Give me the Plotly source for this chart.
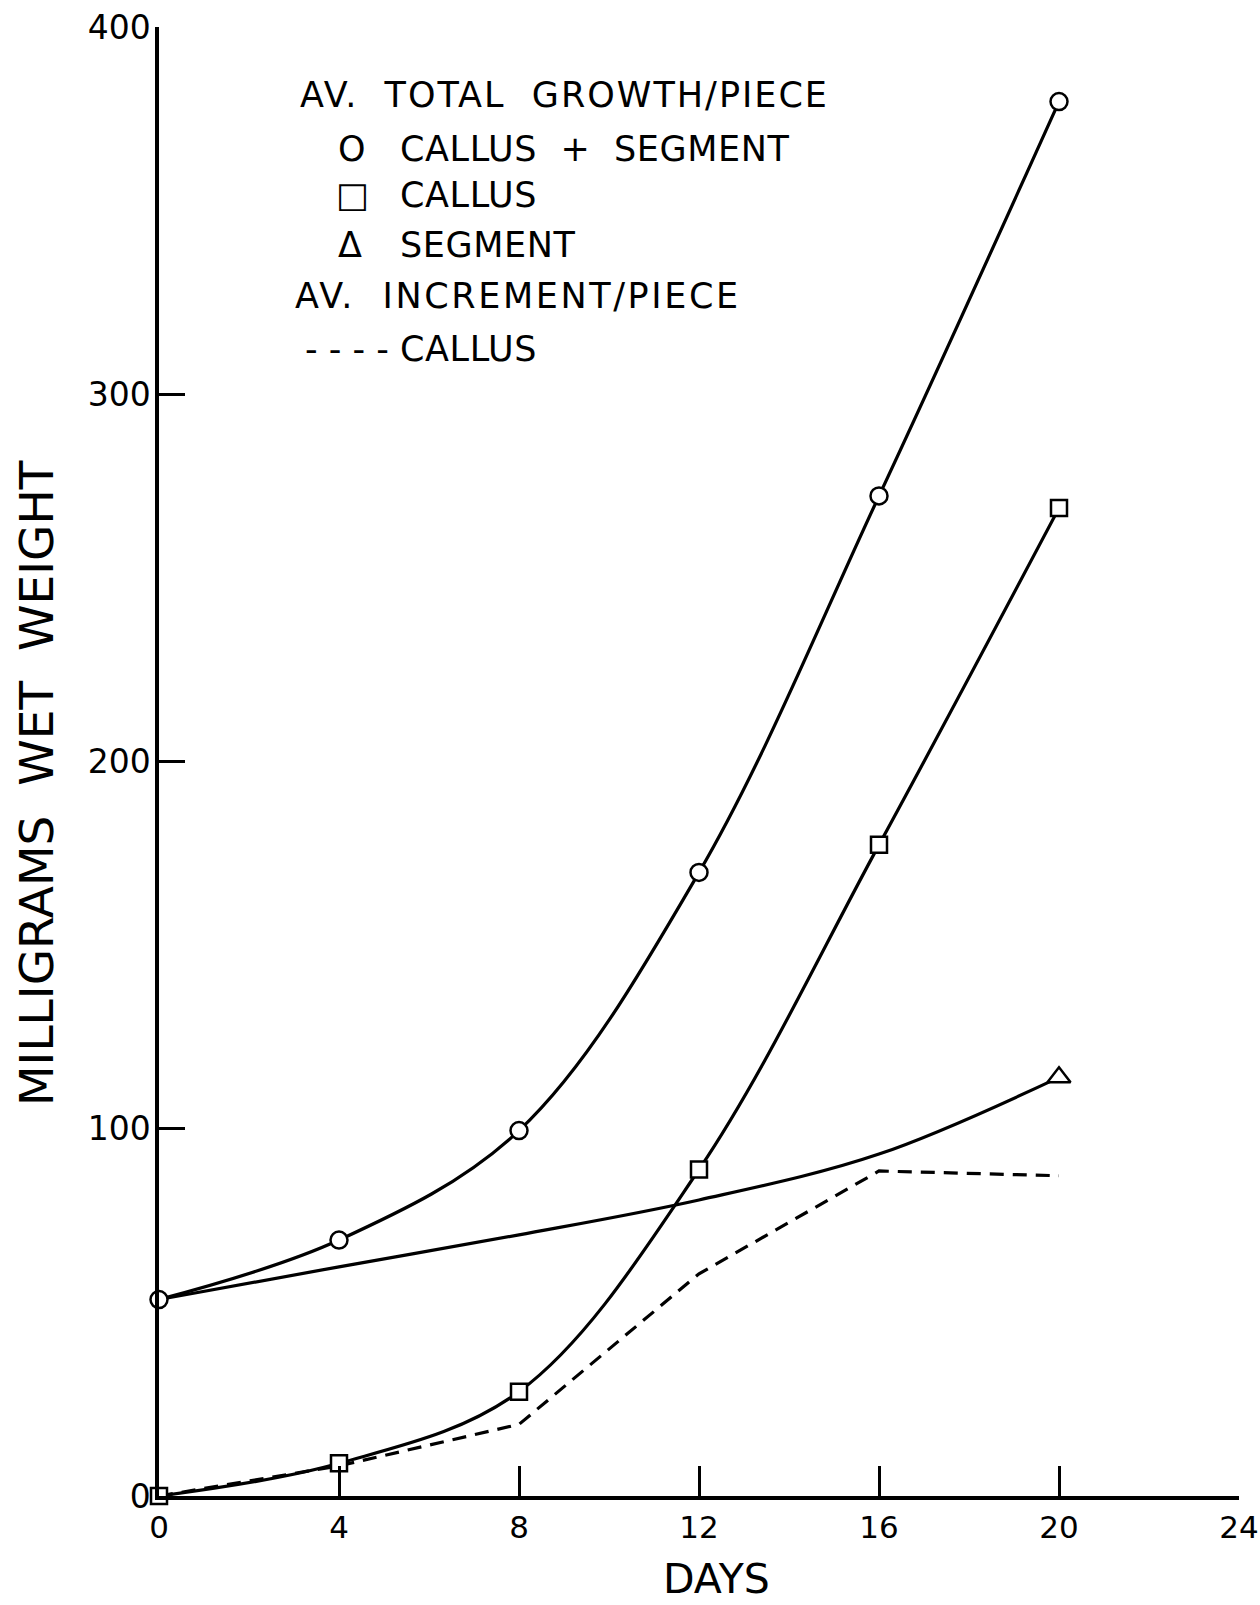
import plotly.graph_objects as go

# ---- data ----
days = [0, 4, 8, 12, 16, 20]
callus_plus_segment = [53.5, 69.7, 99.5, 169.8, 272.3, 379.7]
callus = [0.0, 8.9, 28.4, 88.9, 177.3, 269.0]
segment = [53.5, 62.4, 71.1, 80.6, 93.1, 114.0]
increment_callus = [0.0, 8.2, 19.5, 60.5, 88.5, 87.2]

x_ticks = [0, 4, 8, 12, 16, 20, 24]
y_ticks = [0, 100, 200, 300, 400]

# (text, left px, centre px, letter spacing px)
legend_lines = [
    ("AV.  TOTAL  GROWTH/PIECE", 298, 95, 2.0),
    ("O", 336, 149, 0), ("CALLUS  +  SEGMENT", 398, 149, 0.6),
    ("\u25a1", 334, 195, 0), ("CALLUS", 398, 195, 0.6),
    ("\u0394", 336, 245, 0), ("SEGMENT", 398, 245, 0.6),
    ("AV.  INCREMENT/PIECE", 293, 296, 2.6),
    ("- - - -", 303, 349, 0), ("CALLUS", 398, 349, 0.6),
]

W, H = 1260, 1605
L, R, T, B = 159, 21, 27, 109
PW, PH = W - L - R, H - T - B
FONT = "DejaVu Sans"


def px(x):
    return (x - L) / PW


def py(y):
    return (H - B - y) / PH


fig = go.Figure()

fig.add_trace(go.Scatter(
    x=days, y=segment, mode="lines",
    line=dict(color="black", width=3.2, shape="spline", smoothing=1.0),
    cliponaxis=False, showlegend=False))
fig.add_trace(go.Scatter(
    x=days, y=increment_callus, mode="lines",
    line=dict(color="black", width=3.2, dash="14px,9px"),
    cliponaxis=False, showlegend=False))
fig.add_trace(go.Scatter(
    x=days, y=callus, mode="lines+markers",
    line=dict(color="black", width=3.2, shape="spline", smoothing=1.0),
    marker=dict(symbol="square", size=16, color="white",
                line=dict(color="black", width=2.5)),
    cliponaxis=False, showlegend=False))
fig.add_trace(go.Scatter(
    x=days, y=callus_plus_segment, mode="lines+markers",
    line=dict(color="black", width=3.2, shape="spline", smoothing=1.0),
    marker=dict(symbol="circle", size=17, color="white",
                line=dict(color="black", width=2.5)),
    cliponaxis=False, showlegend=False))
fig.add_trace(go.Scatter(
    x=days[-1:], y=segment[-1:], mode="markers",
    marker=dict(symbol="triangle-up", size=20, color="white",
                line=dict(color="black", width=2.5)),
    cliponaxis=False, showlegend=False))

annotations = []
for text, x, y, ls in legend_lines:
    label = f'<span style="letter-spacing:{ls}px">{text}</span>' if ls else text
    annotations.append(dict(
        text=label, x=px(x), y=py(y), xref="paper", yref="paper",
        xanchor="left", yanchor="middle", showarrow=False,
        font=dict(family=FONT, size=35, color="black")))

annotations.append(dict(
    text="MILLIGRAMS  WET  WEIGHT", x=px(36), y=py(783),
    xref="paper", yref="paper", textangle=-90,
    xanchor="center", yanchor="middle", showarrow=False,
    font=dict(family=FONT, size=47, color="black")))
annotations.append(dict(
    text="DAYS", x=px(716), y=py(1579),
    xref="paper", yref="paper",
    xanchor="center", yanchor="middle", showarrow=False,
    font=dict(family=FONT, size=41, color="black")))

fig.update_layout(
    width=W, height=H, autosize=False,
    margin=dict(l=L, r=R, t=T, b=B, pad=0, autoexpand=False),
    paper_bgcolor="white", plot_bgcolor="white",
    annotations=annotations,
    xaxis=dict(
        range=[0, 24], tickvals=x_ticks, ticktext=[str(v) for v in x_ticks],
        showgrid=False, zeroline=False, showline=True, linecolor="black",
        linewidth=3.5, ticks="inside", ticklen=30, tickwidth=2.5,
        tickcolor="black", ticklabelstandoff=1, automargin=False,
        ticklabeloverflow="allow",
        tickfont=dict(family=FONT, size=31, color="black"), fixedrange=True),
    yaxis=dict(
        range=[0, 400], tickvals=y_ticks, ticktext=[str(v) for v in y_ticks],
        showgrid=False, zeroline=False, showline=True, linecolor="black",
        linewidth=3.5, ticks="inside", ticklen=26, tickwidth=2.5,
        tickcolor="black", ticklabelstandoff=-2, automargin=False,
        tickfont=dict(family=FONT, size=33, color="black"), fixedrange=True),
)

fig.write_html("out.html",
               config={"displayModeBar": False},
               post_script="document.body.style.margin='0';"
                           "document.body.style.overflow='hidden';")
